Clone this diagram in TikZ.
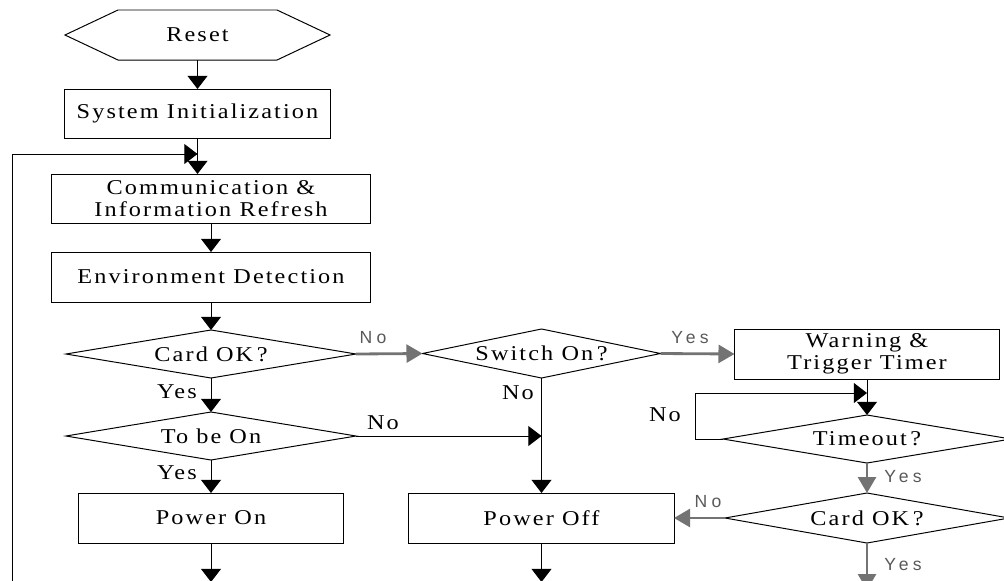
\documentclass[tikz,border=0pt]{standalone}
\usepackage{fontspec}
\setmainfont{Liberation Serif}[LetterSpace=10,FakeStretch=1.15]
\newfontfamily\lblsans{Liberation Sans}[LetterSpace=25]
\usetikzlibrary{arrows.meta,shapes.geometric}
\begin{document}
\begin{tikzpicture}[x=0.025cm,y=-0.025cm,
  every node/.style={font=\fontsize{15}{15.5}\selectfont, inner sep=0pt, outer sep=0pt},
  box/.style={draw, line width=0.7pt, align=center, minimum height=1.25cm},
  dia/.style={draw, diamond, line width=0.7pt, aspect=6, minimum height=1.2cm},
  conn/.style={line width=0.7pt, -{Triangle[width=0.5cm,length=0.33cm]}},
  gconn/.style={line width=2pt, black!55, -{Triangle[width=0.45cm,length=0.4cm]}},
  glbl/.style={font=\lblsans\fontsize{12.5}{13}\selectfont, text=black!65}
]
\clip (0,0) rectangle (1004,580);

% nodes
\node[minimum width=6.625cm, minimum height=1.25cm] (reset) at (197.5,35) {Reset};
\draw[line width=0.7pt] (reset.west) -- ([xshift=1.325cm]reset.north west)
  -- ([xshift=-1.325cm]reset.north east) -- (reset.east)
  -- ([xshift=-1.325cm]reset.south east) -- ([xshift=1.325cm]reset.south west) -- cycle;
\node[box, minimum width=6.625cm, minimum height=1.225cm] (sysinit) at (197.5,113.5) {System Initialization};
\node[box, minimum width=7.95cm, minimum height=1.225cm] (comm) at (211,198.5) {Communication \&\\Information Refresh};
\node[box, minimum width=7.95cm] (env) at (211,277) {Environment Detection};
\node[dia, minimum width=7.25cm] (cardok) at (211,354) {Card OK\,?};
\node[dia, minimum width=5.95cm, minimum height=1.225cm] (switchon) at (541.5,353.5) {Switch On\,?};
\node[box, minimum width=6.625cm] (warn) at (867,354) {Warning \&\\Trigger Timer};
\node[dia, minimum width=7.25cm] (tobeon) at (211,436) {To be On};
\node[dia, minimum width=7.2cm] (timeout) at (867,439) {Timeout\,?};
\node[dia, minimum width=7.1cm, minimum height=1.25cm] (cardok2) at (867,518) {Card OK\,?};
\node[box, minimum width=6.6cm] (poweron) at (211,518) {Power On};
\node[box, minimum width=6.625cm] (poweroff) at (541.5,518) {Power Off};

% helper coordinates
\coordinate (fb0) at (12,590);
\coordinate (fb1) at (197.5,154);
\coordinate (tlc) at (695,393);
\coordinate (tl) at (867,393);
\coordinate (endon) at (211,582);
\coordinate (endoff) at (541.5,582);
\coordinate (endok) at (867,590);

% connectors
\draw[conn] (reset.south) -- (sysinit.north);
\draw[conn] (sysinit.south) -- (sysinit.south |- comm.north);
\draw[conn] (fb0) |- (fb1);
\draw[conn] (comm.south) -- (env.north);
\draw[conn] (env.south) -- (cardok.north);
\draw[gconn] (cardok.east) -- (switchon.west);
\draw[gconn] (switchon.east) -- (warn.west);
\draw[conn] (cardok.south) -- (tobeon.north);
\draw[conn] (tobeon.east) -- (tobeon.east -| switchon.south);
\draw[conn] (switchon.south) -- (poweroff.north);
\draw[conn] (tobeon.south) -- (poweron.north);
\draw[conn] (poweron.south) -- (endon);
\draw[conn] (poweroff.south) -- (endoff);
\draw[conn] (warn.south) -- (timeout.north);
\draw[conn] (timeout.west) -| (tlc) -- (tl);
\draw[gconn] (timeout.south) -- (cardok2.north);
\draw[gconn] (cardok2.west) -- (cardok2.west -| poweroff.east);
\draw[gconn] (cardok2.south) -- (endok);

% labels
\node (yes1) at (177,392) {Yes};
\node (yes2) at (177,473) {Yes};
\node (no1) at (518,393) {No};
\node (no2) at (383,423) {No};
\node (no3) at (665,415) {No};
\node[glbl] (gno1) at (373,338) {No};
\node[glbl] (gyes1) at (690,338) {Yes};
\node[glbl] (gyes2) at (903,477) {Yes};
\node[glbl] (gno2) at (708,502) {No};
\node[glbl] (gyes3) at (903,565) {Yes};
\end{tikzpicture}
\end{document}
